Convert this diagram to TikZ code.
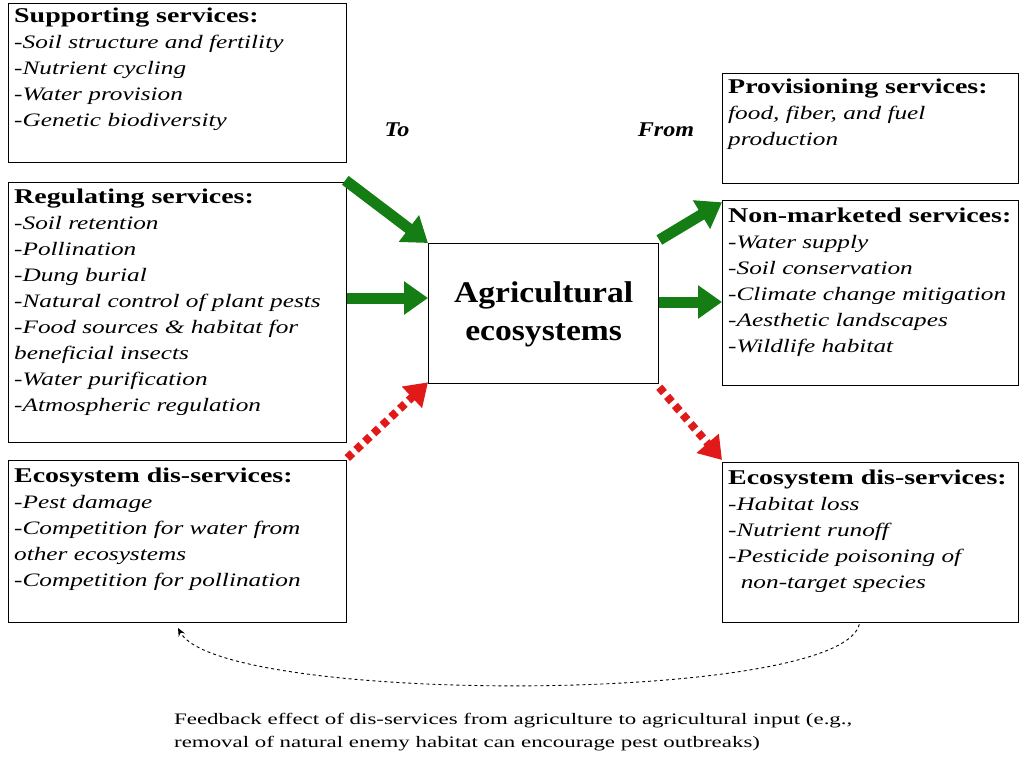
\documentclass[tikz,border=0pt]{standalone}
\usepackage{fontspec}
\usepackage{graphicx}
\setmainfont{Liberation Serif}
\usetikzlibrary{arrows.meta}
\begin{document}
\begin{tikzpicture}[x=1pt,y=-1pt,
 box/.style={draw,line width=1.3pt,inner sep=0pt,anchor=north west},
 txt/.style={anchor=north west,inner sep=0pt},
 garrow/.style={draw={rgb,255:red,20;green,125;blue,20},line width=11pt,-{Triangle[length=24pt,width=32pt,fill={rgb,255:red,20;green,125;blue,20}]}},
 rarrow/.style={draw={rgb,255:red,225;green,25;blue,25},line width=8pt,dash pattern=on 7pt off 5pt,-{Triangle[length=22pt,width=28pt,fill={rgb,255:red,225;green,25;blue,25}]}}]
\useasboundingbox (0,0) rectangle (1024,768);
\newcommand{\hd}[1]{\scalebox{1.0}[1]{\upshape\bfseries\fontsize{21}{26}\selectfont #1}}
\newcommand{\bl}[1]{\scalebox{1.33}[1]{\fontsize{19}{26}\selectfont\renewcommand{\arraystretch}{1}\begin{tabular}{@{}l@{}}#1\end{tabular}}}
\newcommand{\itx}{\itshape}
\node[box,minimum width=338pt,minimum height=159pt] (sup) at (8,3) {};
\node[box,minimum width=338pt,minimum height=260pt] (reg) at (8,182) {};
\node[box,minimum width=338pt,minimum height=162pt] (dl) at (8,460) {};
\node[box,minimum width=230pt,minimum height=140pt] (ag) at (428,243) {};
\node[box,minimum width=296pt,minimum height=110pt] (pro) at (722,73) {};
\node[box,minimum width=296pt,minimum height=185pt] (nm) at (722,200) {};
\node[box,minimum width=296pt,minimum height=160pt] (dr) at (722,462) {};
\node[txt] (t1) at (14,4) {\bl{\hd{Supporting services:}\\\itx-Soil structure and fertility\\\itx-Nutrient cycling\\\itx-Water provision\\\itx-Genetic biodiversity}};
\node[txt] (t2) at (14,185) {\bl{\hd{Regulating services:}\\\itx-Soil retention\\\itx-Pollination\\\itx-Dung burial\\\itx-Natural control of plant pests\\\itx-Food sources \& habitat for\\\itx beneficial insects\\\itx-Water purification\\\itx-Atmospheric regulation}};
\node[txt] (t3) at (14,464) {\bl{\hd{Ecosystem dis-services:}\\\itx-Pest damage\\\itx-Competition for water from\\\itx other ecosystems\\\itx-Competition for pollination}};
\node[txt] (t4) at (728,75) {\bl{\hd{Provisioning services:}\\\itx food, fiber, and fuel\\\itx production}};
\node[txt] (t5) at (728,204) {\bl{\hd{Non-marketed services:}\\\itx-Water supply\\\itx-Soil conservation\\\itx-Climate change mitigation\\\itx-Aesthetic landscapes\\\itx-Wildlife habitat}};
\node[txt] (t6) at (728,466) {\bl{\hd{Ecosystem dis-services:}\\\itx-Habitat loss\\\itx-Nutrient runoff\\\itx-Pesticide poisoning of\\\itx\ \ non-target species}};
\node (agt) at (ag.center) {\scalebox{1.12}[1]{\bfseries\fontsize{30}{38}\selectfont\begin{tabular}{c}Agricultural\\ecosystems\end{tabular}}};
\node[font=\bfseries\itshape\fontsize{21}{22}\selectfont] (to) at (397,130) {\scalebox{1.15}[1]{To}};
\node[font=\bfseries\itshape\fontsize{21}{22}\selectfont] (from) at (666,130) {\scalebox{1.15}[1]{From}};
\draw[garrow] ([xshift=-2pt,yshift=-17pt]sup.south east) -- (ag.north west);
\draw[garrow] ([yshift=-116pt]reg.north east) -- ([yshift=-55pt]ag.north west);
\draw[rarrow] ([yshift=2pt]dl.north east) -- ([yshift=2pt]ag.south west);
\draw[garrow] ([yshift=3pt]ag.north east) -- ([yshift=-18pt]pro.south west);
\draw[garrow] ([yshift=-59pt]ag.north east) -- ([yshift=-102pt]nm.north west);
\draw[rarrow] ([yshift=-3pt]ag.south east) -- ([yshift=2pt]dr.north west);
\coordinate (fb) at (178,628);
\draw[dashed,line width=0.9pt,-{Stealth[length=8pt,width=7pt]}] ([xshift=-160pt,yshift=-1pt]dr.south east) .. controls (840,705) and (220,705) .. (fb);
\node[txt] (cap) at (174,708) {\scalebox{1.43}[1]{\fontsize{16}{23}\selectfont\begin{tabular}{@{}l@{}}Feedback effect of dis-services from agriculture to agricultural input (e.g.,\\removal of natural enemy habitat can encourage pest outbreaks)\end{tabular}}};
\end{tikzpicture}
\end{document}
